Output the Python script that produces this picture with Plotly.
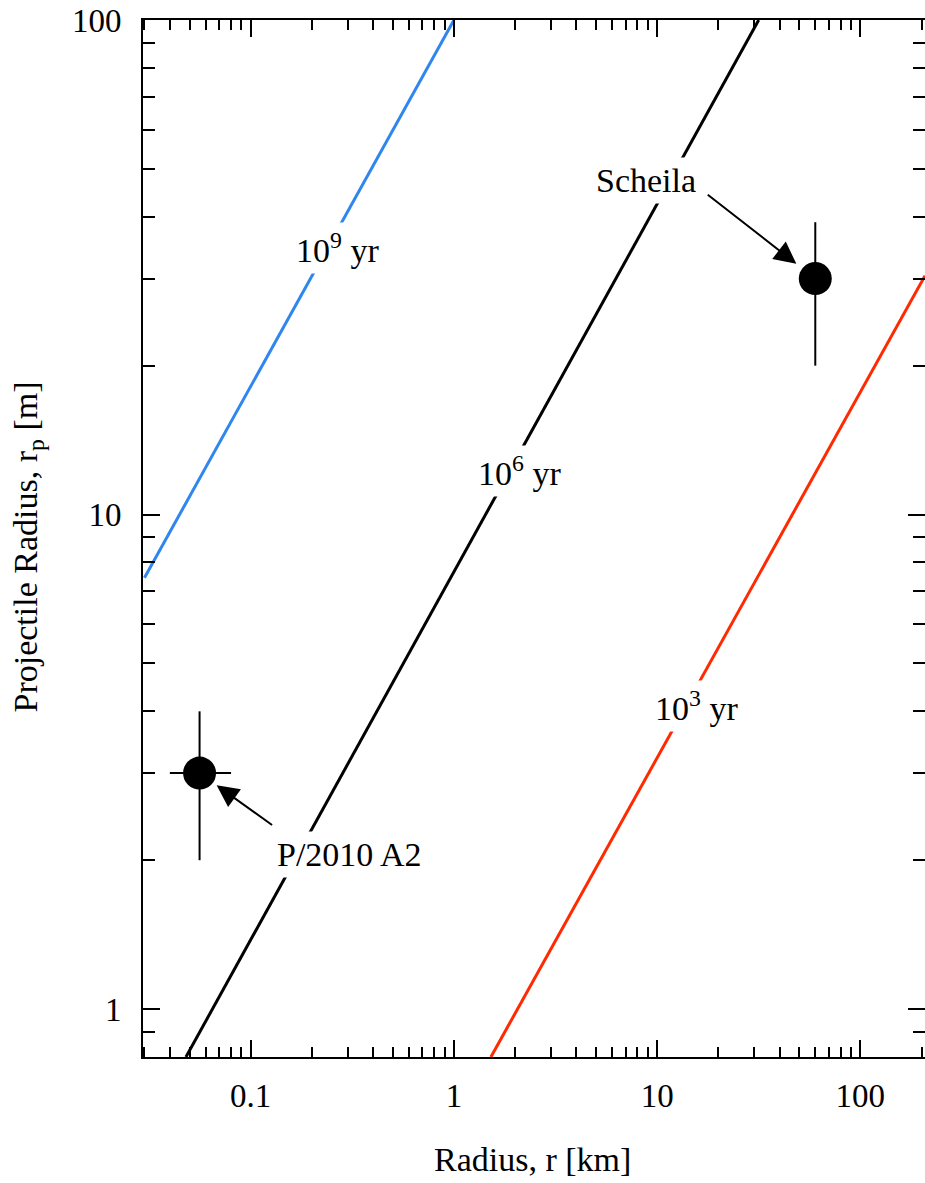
import numpy as np
import plotly.graph_objects as go

# Collision-lifetime lines (endpoints)
line_labels = ["10<sup>9</sup> yr", "10<sup>6</sup> yr", "10<sup>3</sup> yr"]
blue_x = [0.03, 1.0]
blue_y = [7.45, 100.0]
black_x = [0.048, 31.6]
black_y = [0.8, 100.0]
red_x = [1.52, 208.0]
red_y = [0.8, 30.4]

# Objects
obj_names = ["P/2010 A2", "Scheila"]
obj_x = [0.056, 60.0]
obj_y = [3.0, 30.0]
obj_x_minus = [0.016, 0.0]
obj_x_plus = [0.024, 0.0]
obj_y_minus = [1.0, 10.0]
obj_y_plus = [1.0, 9.0]

x_tickvals = [0.1, 1, 10, 100]
x_ticktext = ["0.1", "1", "10", "100"]
y_tickvals = [1, 10, 100]
y_ticktext = ["1", "10", "100"]

FONT = "Liberation Serif"
FS = 33
FT = 34

fig = go.Figure()
fig.add_trace(go.Scatter(x=blue_x, y=blue_y, mode="lines",
                         line=dict(color="#2f86ee", width=3), showlegend=False))
fig.add_trace(go.Scatter(x=black_x, y=black_y, mode="lines",
                         line=dict(color="black", width=3), showlegend=False))
fig.add_trace(go.Scatter(x=red_x, y=red_y, mode="lines",
                         line=dict(color="#ff2a00", width=3), showlegend=False))
fig.add_trace(go.Scatter(
    x=obj_x, y=obj_y, mode="markers",
    marker=dict(color="black", size=33),
    error_x=dict(type="data", symmetric=False, array=obj_x_plus, arrayminus=obj_x_minus,
                 color="black", thickness=2, width=0),
    error_y=dict(type="data", symmetric=False, array=obj_y_plus, arrayminus=obj_y_minus,
                 color="black", thickness=2, width=0),
    showlegend=False))

def minor_vals(lo_exp, hi_exp):
    vals = []
    for e in range(lo_exp, hi_exp + 1):
        for d in range(2, 10):
            vals.append(d * 10.0 ** e)
    return vals

x_range = [np.log10(0.0295), np.log10(208.0)]
y_range = [np.log10(0.8), 2.0]

fig.update_xaxes(
    type="log", range=x_range,
    tickvals=x_tickvals, ticktext=x_ticktext,
    ticks="inside", ticklen=17, tickwidth=2, tickcolor="black",
    minor=dict(ticks="inside", ticklen=10, tickwidth=2, tickcolor="black",
               tickmode="array", tickvals=minor_vals(-2, 2), showgrid=False),
    showline=True, linecolor="black", linewidth=2, mirror="ticks",
    showgrid=False, zeroline=False,
    ticklabelstandoff=8, ticklabeloverflow="allow",
    tickfont=dict(family=FONT, size=FS, color="black"),
)
fig.update_yaxes(
    type="log", range=y_range,
    tickvals=y_tickvals, ticktext=y_ticktext,
    ticks="inside", ticklen=17, tickwidth=2, tickcolor="black",
    minor=dict(ticks="inside", ticklen=12, tickwidth=2, tickcolor="black",
               tickmode="array", tickvals=minor_vals(-1, 1), showgrid=False),
    showline=True, linecolor="black", linewidth=2, mirror="ticks",
    showgrid=False, zeroline=False,
    ticklabelstandoff=13, ticklabeloverflow="allow",
    tickfont=dict(family=FONT, size=FS, color="black"),
)

annotations = []
# axis titles
annotations.append(dict(text="Radius, r [km]", xref="paper", yref="paper", x=0.4987, y=-0.0984,
                        xanchor="center", yanchor="middle", showarrow=False,
                        font=dict(family=FONT, size=FT, color="black")))
annotations.append(dict(text="Projectile Radius, r<sub>p</sub> [m]", xref="paper", yref="paper",
                        x=-0.1474, y=0.492, xanchor="center", yanchor="middle", textangle=-90,
                        showarrow=False, font=dict(family=FONT, size=FT, color="black")))
# line labels (white background cuts the line)
label_pos = [(0.2487, 0.7801), (0.4809, 0.5651), (0.7079, 0.3385)]
for txt, (px, py) in zip(line_labels, label_pos):
    annotations.append(dict(text=txt, xref="paper", yref="paper", x=px, y=py,
                            xanchor="center", yanchor="middle",
                            showarrow=False, bgcolor="white", borderpad=4,
                            font=dict(family=FONT, size=FT, color="black")))
# object labels (also on white, cutting the black line)
annotations.append(dict(text=obj_names[1], xref="paper", yref="paper", x=0.6429, y=0.8448,
                        xanchor="center", yanchor="middle", bgcolor="white", borderpad=4,
                        showarrow=False, font=dict(family=FONT, size=FT, color="black")))
annotations.append(dict(text=obj_names[0], xref="paper", yref="paper", x=0.2640, y=0.1948,
                        xanchor="center", yanchor="middle", bgcolor="white", borderpad=4,
                        showarrow=False, font=dict(family=FONT, size=FT, color="black")))
# arrows
annotations.append(dict(text="", x=np.log10(obj_x[1]), y=np.log10(obj_y[1]), xref="x", yref="y",
                        showarrow=True, ax=-109, ay=-85, standoff=24,
                        arrowhead=2, arrowsize=2.2, arrowwidth=2, arrowcolor="black"))
annotations.append(dict(text="", x=np.log10(obj_x[0]), y=np.log10(obj_y[0]), xref="x", yref="y",
                        showarrow=True, ax=74, ay=53, standoff=21,
                        arrowhead=2, arrowsize=2.2, arrowwidth=2, arrowcolor="black"))

fig.update_layout(
    width=927, height=1183,
    margin=dict(l=143, r=0, t=20, b=126),
    paper_bgcolor="white", plot_bgcolor="white",
    annotations=annotations,
    showlegend=False,
    hovermode=False,
)

fig.write_html(
    "out.html",
    config={"displayModeBar": False},
    post_script=("document.body.style.margin='0px';"
                 "document.documentElement.style.overflow='hidden';"
                 "document.body.style.overflow='hidden';"),
)
